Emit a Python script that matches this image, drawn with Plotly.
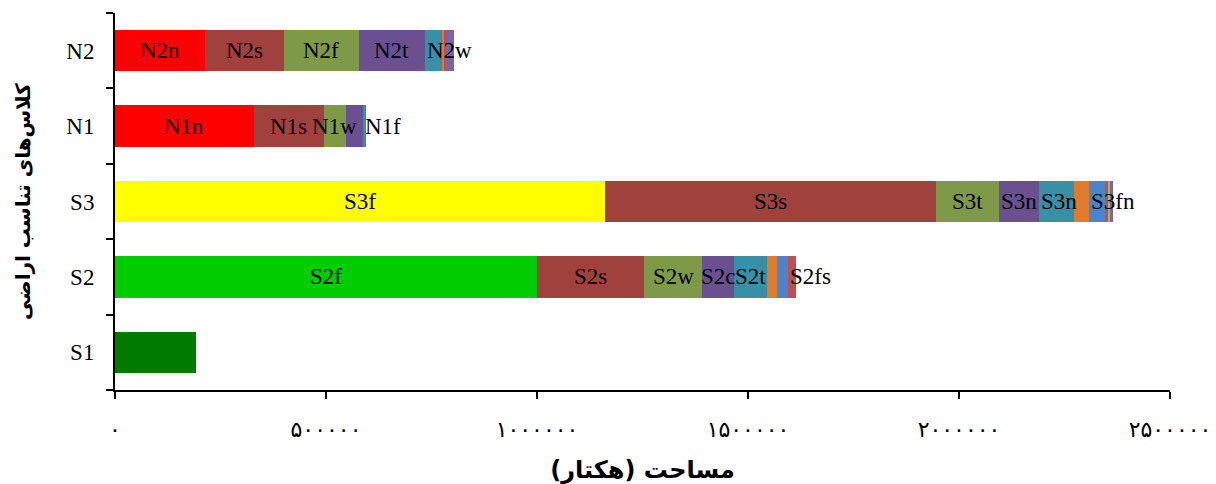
import plotly.graph_objects as go

# ---------------- data ----------------
categories = ["S1", "S2", "S3", "N1", "N2"]

s1_values = [192000]
s1_labels = [""]
s1_colors = ["#007A00"]
s1_align = ["c"]

s2_values = [1000000, 254000, 137000, 76000, 78000, 24000, 26000, 19000]
s2_labels = ["S2f", "S2s", "S2w", "S2c", "S2t", "", "", "S2fs"]
s2_colors = ["#00CC00", "#A0413E", "#7E9A48", "#6A5090", "#3890A8", "#E07B2E", "#4A85CC", "#C0504D"]
s2_align = ["c", "c", "c", "c", "c", "c", "c", "l"]

s3_values = [1161000, 784000, 149000, 95000, 83000, 36000, 38000, 7000, 5000, 7000]
s3_labels = ["S3f", "S3s", "S3t", "S3n", "S3n", "", "S3fn", "", "", ""]
s3_colors = ["#FFFF00", "#A0413E", "#7E9A48", "#6A5090", "#3890A8", "#E07B2E", "#4A85CC", "#C0504D", "#9BBB59", "#8064A2"]
s3_align = ["c", "c", "c", "c", "l", "c", "l", "c", "c", "c"]

n1_values = [329000, 166000, 52000, 40000, 7000]
n1_labels = ["N1n", "N1s", "N1w", "", "N1f"]
n1_colors = ["#FF0000", "#A0413E", "#7E9A48", "#6A5090", "#3890A8"]
n1_align = ["c", "c", "c", "c", "l"]

n2_values = [213000, 187000, 178000, 156000, 40000, 5000, 5000, 19000]
n2_labels = ["N2n", "N2s", "N2f", "N2t", "N2w", "", "", ""]
n2_colors = ["#FF0000", "#A0413E", "#7E9A48", "#6A5090", "#3890A8", "#E07B2E", "#C0504D", "#8064A2"]
n2_align = ["c", "c", "c", "c", "l", "c", "c", "c"]

x_tickvals = [0, 500000, 1000000, 1500000, 2000000, 2500000]

x_title = "مساحت (هکتار)"
y_title = "کلاس‌های تناسب اراضی"

# ---------------- helpers ----------------
FA_DIGITS = "۰۱۲۳۴۵۶۷۸۹"


def to_fa(n):
    return "".join(FA_DIGITS[int(c)] for c in str(n))


series = {
    "S1": (s1_values, s1_labels, s1_colors, s1_align),
    "S2": (s2_values, s2_labels, s2_colors, s2_align),
    "S3": (s3_values, s3_labels, s3_colors, s3_align),
    "N1": (n1_values, n1_labels, n1_colors, n1_align),
    "N2": (n2_values, n2_labels, n2_colors, n2_align),
}

LABEL_FONT = dict(family="Liberation Serif", size=23, color="black")

fig = go.Figure()
annotations = []
for cat in categories:
    vals, labs, cols, aligns = series[cat]
    start = 0
    for v, lab, col, al in zip(vals, labs, cols, aligns):
        fig.add_trace(go.Bar(
            y=[cat], x=[v], orientation="h",
            marker=dict(color=col, line=dict(width=0)),
            width=0.55, showlegend=False, hoverinfo="x+y",
        ))
        if lab:
            if al == "l":
                annotations.append(dict(x=start, y=cat, text=lab, showarrow=False,
                                        xanchor="left", yanchor="middle", font=LABEL_FONT))
            else:
                annotations.append(dict(x=start + v / 2, y=cat, text=lab, showarrow=False,
                                        xanchor="center", yanchor="middle", font=LABEL_FONT))
        start += v

fig.update_layout(
    barmode="stack",
    width=1216, height=484,
    margin=dict(l=115, r=46, t=13, b=94, autoexpand=False),
    paper_bgcolor="white", plot_bgcolor="white",
    annotations=annotations,
    bargap=0.45,
)

fig.update_xaxes(
    range=[0, 2500000],
    tickvals=x_tickvals,
    ticktext=[to_fa(v) for v in x_tickvals],
    ticks="outside", ticklen=7, tickwidth=1.5, tickcolor="black",
    showline=True, linecolor="black", linewidth=2,
    showgrid=False, zeroline=False,
    tickfont=dict(family="DejaVu Sans", size=22, color="black"),
    ticklabelstandoff=12,
    title=dict(text="<b>" + x_title + "</b>", font=dict(family="DejaVu Sans", size=24, color="black"), standoff=20),
)

fig.update_yaxes(
    type="category",
    categoryorder="array", categoryarray=categories,
    tickson="boundaries",
    ticks="outside", ticklen=7, tickwidth=1.5, tickcolor="black",
    showline=True, linecolor="black", linewidth=2,
    showgrid=False, zeroline=False,
    tickfont=dict(family="Liberation Serif", size=23, color="black"),
    ticklabelstandoff=14,
    title=dict(text="<b>" + y_title + "</b>", font=dict(family="DejaVu Sans", size=20, color="black"), standoff=30),
)

fig.write_html("out.html")
